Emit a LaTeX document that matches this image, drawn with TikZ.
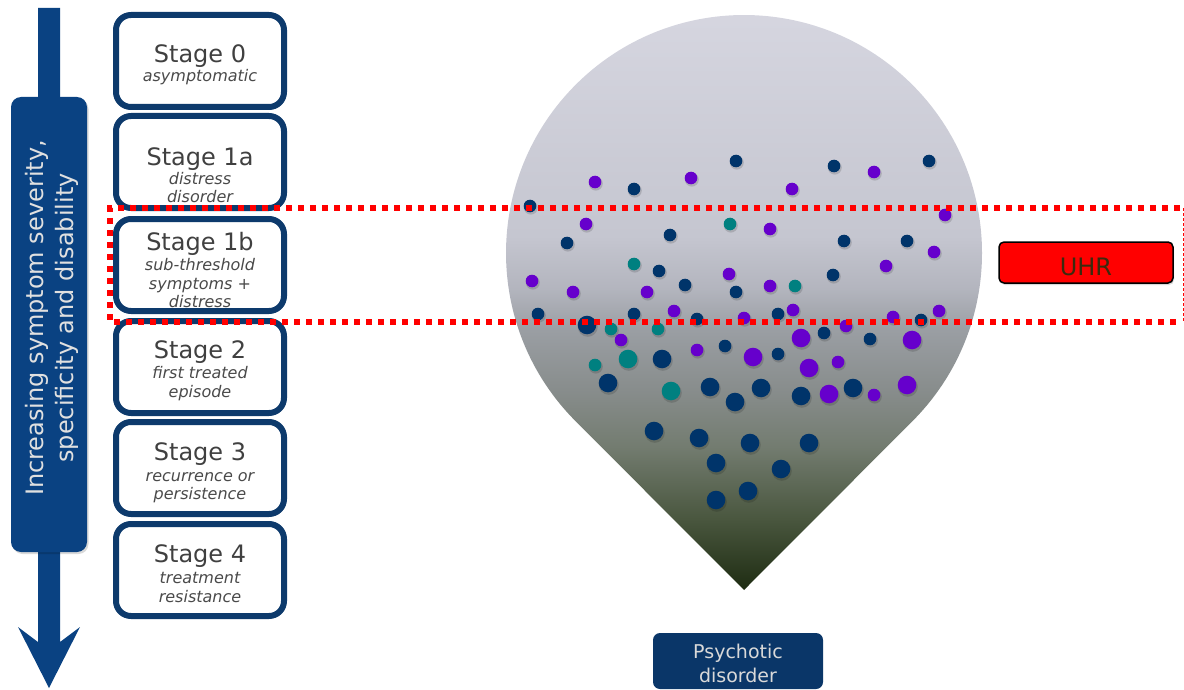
\documentclass[tikz,border=0pt]{standalone}
\usepackage{fontspec}
\setmainfont{DejaVu Sans}
\usetikzlibrary{shadows}

\definecolor{arrowblue}{HTML}{0A4282}
\definecolor{stageblue}{HTML}{0D3A6C}
\definecolor{titlegray}{HTML}{404040}
\definecolor{subgray}{HTML}{4A4A4A}
\definecolor{dotnavy}{HTML}{00346A}
\definecolor{dotpurple}{HTML}{6600CC}
\definecolor{dotteal}{HTML}{008080}
\definecolor{boxnavy}{HTML}{0A3668}
\definecolor{uhrtext}{HTML}{3B2B0E}
% teardrop gradient stops, bottom to top
\definecolor{pB}{HTML}{1E2C12}
\definecolor{pA}{HTML}{4A573F}
\definecolor{pC}{HTML}{737C70}
\definecolor{pD}{HTML}{878C8B}
\definecolor{pE}{HTML}{9A9EA3}
\definecolor{pF}{HTML}{B3B5BE}
\definecolor{pG}{HTML}{C5C6D0}
\definecolor{pT}{HTML}{D7D7E1}

\pgfdeclareverticalshading{pearshade}{100bp}{color(0bp)=(pB); color(25bp)=(pB); color(31bp)=(pA); color(37bp)=(pC); color(41.5bp)=(pD); color(46.7bp)=(pE); color(50.2bp)=(pF); color(54.6bp)=(pG); color(75bp)=(pT); color(100bp)=(pT)}

\begin{document}
\begin{tikzpicture}[x=1pt, y=-1pt,
  stagebox/.style={draw=stageblue, line width=6pt, fill=white, rounded corners=15pt,
    minimum width=168pt, minimum height=92pt, inner sep=0pt,
    drop shadow={shadow xshift=2pt, shadow yshift=-2pt, opacity=0.18, fill=black}},
  stagetitle/.style={anchor=base, inner sep=0pt, text=titlegray, font=\fontsize{24}{28}\selectfont},
  stagesub/.style={anchor=base, inner sep=0pt, text=subgray, font=\fontsize{16}{19}\selectfont\itshape},
  sidetext/.style={anchor=base, inner sep=0pt, rotate=90, text=white!88!black, font=\fontsize{24}{30}\selectfont},
  dotshade/.style={fill=black, opacity=0.14},
]
\useasboundingbox (0,0) rectangle (1184,690);

% teardrop funnel
\shade[shading=pearshade] (744,590) -- (912.3,421.3) arc[start angle=45, end angle=-225, radius=238] -- cycle;

% population dots: soft shadow then the dot
\foreach \x/\y in {736/161,834/166,929/161,634/189,530/206,567/243,670/235,844/241,907/241,659/271,685/285,833/275,736/292,538/314,634/314,697/319,778/314,921/320,824/333,870/339,725/346,778/354}
  {\fill[dotshade] (\x+0.8,\y+1.6) circle[radius=7]; \fill[dotnavy] (\x,\y) circle[radius=6.3];}
\foreach \x/\y in {587/325,662/359,608/383,710/387,735/402,761/388,801/396,853/388,654/431,699/438,750/443,809/443,716/463,781/469,716/500,748/491}
  {\fill[dotshade] (\x+0.8,\y+1.8) circle[radius=10]; \fill[dotnavy] (\x,\y) circle[radius=9.3];}
\foreach \x/\y in {595/182,691/178,874/172,792/189,586/224,945/215,770/229,934/252,532/281,573/292,647/292,729/274,886/266,770/286,674/311,744/318,793/310,893/317,939/311,846/326,621/340,697/350,838/362,874/395}
  {\fill[dotshade] (\x+0.8,\y+1.6) circle[radius=7]; \fill[dotpurple] (\x,\y) circle[radius=6.3];}
\foreach \x/\y in {801/338,912/340,753/357,809/368,829/394,907/385}
  {\fill[dotshade] (\x+0.8,\y+1.8) circle[radius=10]; \fill[dotpurple] (\x,\y) circle[radius=9.3];}
\foreach \x/\y in {730/224,634/264,795/286,611/329,658/329,595/365}
  {\fill[dotshade] (\x+0.8,\y+1.6) circle[radius=7]; \fill[dotteal] (\x,\y) circle[radius=6.3];}
\foreach \x/\y in {628/359,671/391}
  {\fill[dotshade] (\x+0.8,\y+1.8) circle[radius=10]; \fill[dotteal] (\x,\y) circle[radius=9.3];}

% severity arrow with its label panel
\fill[arrowblue] (38,8) -- (60,8) -- (60,642) -- (80,627) -- (49,688) -- (18,627) -- (38,642) -- cycle;
\node[fill=arrowblue, rounded corners=10pt, minimum width=76pt, minimum height=455pt, inner sep=0pt,
  drop shadow={shadow xshift=1.5pt, shadow yshift=-2pt, opacity=0.15, fill=black}] (panel) at (49,324.5) {};
\node[sidetext] (sev1) at (43,318) {Increasing symptom severity,};
\node[sidetext] (sev2) at (73,318) {specificity and disability};

% clinical stages
\node[stagebox] (s0)  at (200,61)  {};
\node[stagebox] (s1a) at (200,162) {};
\node[stagebox] (s1b) at (200,265) {};
\node[stagebox] (s2)  at (200,367) {};
\node[stagebox] (s3)  at (200,468) {};
\node[stagebox] (s4)  at (200,570) {};

\node[stagetitle] (t0) at (200,63) {Stage 0};
\node[stagesub] (u0a) at (200,82) {asymptomatic};

\node[stagetitle] (t1a) at (200,166) {Stage 1a};
\node[stagesub] (u1aa) at (200,185) {distress};
\node[stagesub] (u1ab) at (200,203) {disorder};

\node[stagetitle] (t1b) at (200,250) {Stage 1b};
\node[stagesub] (u1ba) at (200,270) {sub-threshold};
\node[stagesub] (u1bb) at (200,289) {symptoms +};
\node[stagesub] (u1bc) at (200,307) {distress};

\node[stagetitle] (t2) at (200,358) {Stage 2};
\node[stagesub] (u2a) at (200,378) {first treated};
\node[stagesub] (u2b) at (200,397) {episode};

\node[stagetitle] (t3) at (200,460) {Stage 3};
\node[stagesub] (u3a) at (200,481) {recurrence or};
\node[stagesub] (u3b) at (200,499) {persistence};

\node[stagetitle] (t4) at (200,562) {Stage 4};
\node[stagesub] (u4a) at (200,583) {treatment};
\node[stagesub] (u4b) at (200,602) {resistance};

% ultra-high-risk band
\draw[red, line width=6pt, dash pattern=on 6pt off 6pt] (1180,208) -- (110,208) -- (110,322) -- (1180,322);
\draw[red, line width=0.8pt, dash pattern=on 3pt off 2pt] (1183,208) -- (1183,322);

\node[fill=red, draw=black, line width=1.5pt, rounded corners=5pt, minimum width=174pt, minimum height=41pt, inner sep=0pt,
  drop shadow={shadow xshift=1pt, shadow yshift=-2pt, opacity=0.15, fill=black}] (uhr) at (1086,262.5) {};
\node[anchor=base, inner sep=0pt, text=uhrtext, font=\fontsize{24}{28}\selectfont] (uhrlbl) at (1086,275) {UHR};

% outcome label
\node[fill=boxnavy, rounded corners=7pt, minimum width=170pt, minimum height=56pt, inner sep=0pt] (psy) at (738,661) {};
\node[anchor=base, inner sep=0pt, text=white!85!black, font=\fontsize{19}{23}\selectfont] (psy1) at (738,658) {Psychotic};
\node[anchor=base, inner sep=0pt, text=white!85!black, font=\fontsize{19}{23}\selectfont] (psy2) at (738,682) {disorder};
\end{tikzpicture}
\end{document}
